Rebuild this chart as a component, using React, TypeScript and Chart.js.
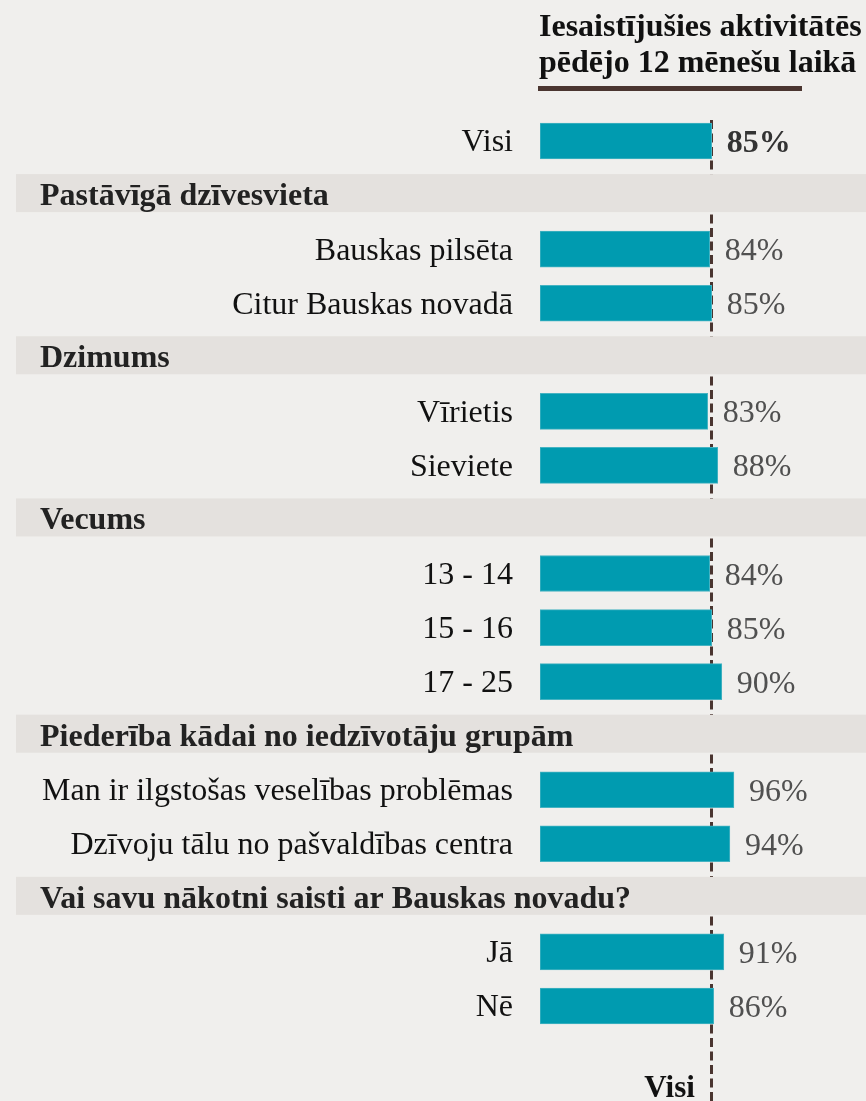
import React, { useEffect, useRef } from 'react';
import { Chart, registerables } from 'chart.js';

Chart.register(...registerables);

const rowLabels = [
  'Visi', '', 'Bauskas pilsēta', 'Citur Bauskas novadā', '', 'Vīrietis', 'Sieviete', '',
  '13 - 14', '15 - 16', '17 - 25', '', 'Man ir ilgstošas veselības problēmas',
  'Dzīvoju tālu no pašvaldības centra', '', 'Jā', 'Nē',
];
const rowHeaders = [
  '', 'Pastāvīgā dzīvesvieta', '', '', 'Dzimums', '', '', 'Vecums', '', '', '',
  'Piederība kādai no iedzīvotāju grupām', '', '', 'Vai savu nākotni saisti ar Bauskas novadu?', '', '',
];
const rowValues: (number | null)[] = [85, null, 84, 85, null, 83, 88, null, 84, 85, 90, null, 96, 94, null, 91, 86];
const titleLines = ['Iesaistījušies aktivitātēs', 'pēdējo 12 mēnešu laikā'];
const referenceValue = 84.6;
const referenceLabel = 'Visi';

const FONT = "'Liberation Serif', 'Times New Roman', serif";
const BG = '#f0efed';
const BAND = '#e4e1de';
const BAR = '#009bb0';
const DARK = '#4a3530';

export default function App() {
  const ref = useRef<HTMLCanvasElement>(null);

  useEffect(() => {
    document.body.style.margin = '0';
    const canvas = ref.current!;
    const decor = {
      id: 'decor',
      beforeDraw(chart: any) {
        const { ctx } = chart;
        ctx.save();
        ctx.fillStyle = BG;
        ctx.fillRect(0, 0, chart.width, chart.height);
        ctx.restore();
      },
      beforeDatasetsDraw(chart: any) {
        const { ctx, scales } = chart;
        const x = Math.round(scales.x.getPixelForValue(referenceValue)) + 0.5;
        const y0 = scales.y.getPixelForValue(0) - 21;
        ctx.save();
        ctx.strokeStyle = DARK;
        ctx.lineWidth = 3;
        ctx.setLineDash([9, 4.5]);
        ctx.beginPath();
        ctx.moveTo(x, y0);
        ctx.lineTo(x, chart.height);
        ctx.stroke();
        ctx.setLineDash([]);
        rowHeaders.forEach((h, i) => {
          if (!h) return;
          const cy = scales.y.getPixelForValue(i);
          ctx.fillStyle = BAND;
          ctx.fillRect(16, cy - 21, chart.width - 16, 38);
          ctx.fillStyle = '#222';
          ctx.font = `bold 32px ${FONT}`;
          ctx.textAlign = 'left';
          ctx.textBaseline = 'alphabetic';
          ctx.fillText(h, 40, cy + 10);
        });
        ctx.restore();
      },
      afterDatasetsDraw(chart: any) {
        const { ctx, scales } = chart;
        const meta = chart.getDatasetMeta(0);
        ctx.save();
        meta.data.forEach((bar: any, i: number) => {
          const v = rowValues[i];
          if (v == null) return;
          ctx.font = `${i === 0 ? 'bold ' : ''}32px ${FONT}`;
          ctx.fillStyle = i === 0 ? '#333' : '#505050';
          ctx.textAlign = 'left';
          ctx.textBaseline = 'alphabetic';
          ctx.fillText(`${v}%`, bar.x + 15, bar.y + 11);
        });
        // title
        ctx.fillStyle = '#111';
        ctx.font = `bold 32px ${FONT}`;
        ctx.textAlign = 'left';
        ctx.textBaseline = 'alphabetic';
        ctx.fillText(titleLines[0], 539, 36);
        ctx.fillText(titleLines[1], 539, 72);
        ctx.fillStyle = DARK;
        ctx.fillRect(538, 86, 264, 5);
        // bottom reference label
        const x = scales.x.getPixelForValue(referenceValue);
        ctx.fillStyle = '#111';
        ctx.font = `bold 31px ${FONT}`;
        ctx.textAlign = 'right';
        ctx.fillText(referenceLabel, x - 16, 1097);
        ctx.restore();
      },
    };

    const chart = new Chart(canvas, {
      type: 'bar',
      data: {
        labels: rowLabels,
        datasets: [
          {
            data: rowValues,
            backgroundColor: BAR,
            borderColor: '#45b3c2',
            borderWidth: 1,
            borderSkipped: false,
            barThickness: 36,
          },
        ],
      },
      options: {
        indexAxis: 'y',
        animation: false,
        responsive: false,
        devicePixelRatio: 1,
        layout: { padding: { top: 114, bottom: 68, left: 0, right: 124 } },
        plugins: { legend: { display: false }, tooltip: { enabled: false } },
        scales: {
          x: { display: false, min: 0, max: 100 },
          y: {
            grid: { display: false, drawTicks: false },
            border: { display: false },
            afterFit: (s: any) => {
              s.width = 540;
            },
            ticks: {
              autoSkip: false,
              padding: 27,
              labelOffset: 2,
              color: '#111',
              font: { family: FONT, size: 32 },
            },
          },
        },
      },
      plugins: [decor],
    });
    return () => chart.destroy();
  }, []);

  return (
    <div style={{ position: 'absolute', left: 0, top: 0, width: 866, height: 1101 }}>
      <canvas ref={ref} width={866} height={1101} style={{ width: 866, height: 1101 }} />
    </div>
  );
}
